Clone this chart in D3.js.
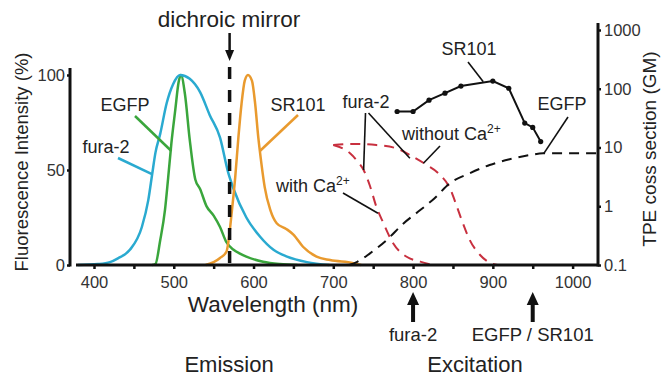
<!DOCTYPE html>
<html>
<head>
<meta charset="utf-8">
<script src="https://cdn.jsdelivr.net/npm/d3@7"></script>
<style>
  body { margin: 0; background: #fff; }
  svg { display: block; font-family: "Liberation Sans", Arial, sans-serif; }
</style>
</head>
<body>
<div id="chart"></div>
<script>
// emission spectra (% of max)
const furaEmWl  = [380, 405, 420, 430, 445, 460, 468, 473, 477, 483, 491, 499, 508, 520, 533, 545, 558, 568, 575, 591, 608, 625, 642, 667, 695]
const furaEmVal = [0, 0.5, 1.5, 3.5, 8, 20, 34, 48, 59, 69, 85, 95, 100, 98, 91, 79, 67, 49, 40, 25, 15, 8, 4.4, 1.5, 0]

const egfpEmWl  = [473, 477, 483, 489, 493, 497, 502, 506, 509, 514, 520, 527, 533, 541, 550, 558, 566, 575, 583, 591, 612, 633, 655]
const egfpEmVal = [0, 0.5, 13, 29, 46, 64, 82, 96, 100, 90, 66, 45, 40, 31, 26, 20, 12, 8, 6, 4.4, 1.7, 0.5, 0]

const srEmWl  = [540, 550, 558, 566, 573, 577, 581, 585, 589, 593, 598, 602, 606, 610, 614, 621, 629, 641, 650, 662, 679, 696, 725, 735]
const srEmVal = [0, 1.5, 3.7, 7, 29, 46, 67, 85, 97, 100, 97, 85, 67, 53, 41, 29, 22, 19, 16, 9.6, 4.4, 2.6, 1, 0]

// two-photon excitation cross sections (GM)
const srTpWl  = [780, 800, 820, 840, 860, 900, 920, 940, 950, 960]
const srTpVal = [41, 41, 64, 84, 111, 135, 102, 26, 22, 12.6]

const egfpTpWl  = [720, 730, 746, 767, 788, 809, 827, 846, 871, 896, 921, 947, 963, 1030]
const egfpTpVal = [0.1, 0.113, 0.158, 0.267, 0.51, 0.86, 1.37, 2.46, 3.64, 5.04, 6.29, 7.45, 7.96, 7.96]

const furaFreeWl  = [700, 725, 754, 779, 796, 817, 834, 846, 855, 861, 871, 884, 900, 906]
const furaFreeVal = [11, 11.5, 11, 9.7, 7.45, 5.04, 3.4, 2.05, 0.98, 0.58, 0.267, 0.148, 0.104, 0.1]

const furaCaWl  = [700, 721, 729, 738, 746, 754, 763, 775, 792, 809, 825]
const furaCaVal = [11, 7.96, 6.12, 4.14, 2.21, 0.98, 0.51, 0.234, 0.138, 0.114, 0.1]

const xTicks = d3.range(400, 1001, 50)
const leftTicks = [0, 50, 100]
const rightTicks = [0.1, 1, 10, 100, 1000]

const mirrorWl = 570
const laserWl = [800, 950]
const laserLabels = ["fura-2", "EGFP / SR101"]

var width = 662,
    height = 378

const zip = (a, b) => a.map((d, i) => [d, b[i]])

var x = d3.scaleLinear().domain([400, 1000]).range([94, 572.6])
var yL = d3.scaleLinear().domain([0, 100]).range([265, 75])
var yR = d3.scaleLog().domain([0.1, 1000]).range([265, 30])

const axisLeftX = 70, axisRightX = 598, baseY = 265

var svg = d3.select("#chart").append("svg")
    .attr("width", width)
    .attr("height", height)

svg.append("rect").attr("width", width).attr("height", height).attr("fill", "#fff")

const cyan = "#2aaad0", green = "#3aa63c", orange = "#e99a2e", red = "#c8303f"

// emission curves
const lineL = d3.line().x(d => x(d[0])).y(d => yL(d[1])).curve(d3.curveMonotoneX)
const lineR = d3.line().x(d => x(d[0])).y(d => yR(d[1])).curve(d3.curveMonotoneX)

svg.append("path").attr("d", lineL(zip(egfpEmWl, egfpEmVal)))
    .attr("fill", "none").attr("stroke", green).attr("stroke-width", 2.5)
svg.append("path").attr("d", lineL(zip(furaEmWl, furaEmVal)))
    .attr("fill", "none").attr("stroke", cyan).attr("stroke-width", 2.5)
svg.append("path").attr("d", lineL(zip(srEmWl, srEmVal)))
    .attr("fill", "none").attr("stroke", orange).attr("stroke-width", 2.5)

// excitation curves
svg.append("path").attr("d", lineR(zip(furaFreeWl, furaFreeVal)))
    .attr("fill", "none").attr("stroke", red).attr("stroke-width", 2).attr("stroke-dasharray", "10,7")
svg.append("path").attr("d", lineR(zip(furaCaWl, furaCaVal)))
    .attr("fill", "none").attr("stroke", red).attr("stroke-width", 2).attr("stroke-dasharray", "10,7")
svg.append("path").attr("d", lineR(zip(egfpTpWl, egfpTpVal)))
    .attr("fill", "none").attr("stroke", "#111").attr("stroke-width", 2).attr("stroke-dasharray", "10,7")

svg.append("path").attr("d", d3.line().x(d => x(d[0])).y(d => yR(d[1]))(zip(srTpWl, srTpVal)))
    .attr("fill", "none").attr("stroke", "#111").attr("stroke-width", 2)
svg.selectAll(".srdot").data(zip(srTpWl, srTpVal)).enter().append("circle")
    .attr("cx", d => x(d[0])).attr("cy", d => yR(d[1])).attr("r", 2.6).attr("fill", "#111")

// dichroic mirror
const mx = x(mirrorWl)
svg.append("line").attr("x1", mx).attr("x2", mx).attr("y1", 67).attr("y2", baseY)
    .attr("stroke", "#111").attr("stroke-width", 3.5).attr("stroke-dasharray", "12,11")
svg.append("line").attr("x1", mx).attr("x2", mx).attr("y1", 33).attr("y2", 52)
    .attr("stroke", "#111").attr("stroke-width", 2.5)
svg.append("path").attr("d", `M${mx - 4.5},50 L${mx + 4.5},50 L${mx},61 Z`).attr("fill", "#111")

// axes
const xAxis = svg.append("g").attr("transform", `translate(0,${baseY})`)
    .call(d3.axisBottom(x).tickValues(xTicks).tickSize(4).tickPadding(7)
        .tickFormat(d => d % 100 === 0 ? d : ""))
const lAxis = svg.append("g").attr("transform", `translate(${axisLeftX},0)`)
    .call(d3.axisLeft(yL).tickValues(leftTicks).tickSize(3).tickPadding(2))
const rAxis = svg.append("g").attr("transform", `translate(${axisRightX},0)`)
    .call(d3.axisRight(yR).tickValues(rightTicks).tickSize(3).tickPadding(3).tickFormat(d => String(d)))

;[xAxis, lAxis, rAxis].forEach(g => {
    g.select(".domain").remove()
    g.selectAll(".tick line").attr("stroke", "#111").attr("stroke-width", 2.5)
    g.selectAll(".tick text").attr("fill", "#333").style("font-size", "16.5px")
        .style("font-family", '"Liberation Sans", Arial, sans-serif')
})

svg.append("line").attr("x1", 76).attr("x2", axisRightX).attr("y1", baseY).attr("y2", baseY)
    .attr("stroke", "#111").attr("stroke-width", 3)
svg.append("line").attr("x1", axisLeftX).attr("x2", axisLeftX).attr("y1", 68).attr("y2", baseY + 1.5)
    .attr("stroke", "#111").attr("stroke-width", 3)
svg.append("line").attr("x1", axisRightX).attr("x2", axisRightX).attr("y1", 23).attr("y2", baseY + 1.5)
    .attr("stroke", "#111").attr("stroke-width", 3)

// axis titles
const txt = (t, px, py, size, anchor) => svg.append("text").attr("x", px).attr("y", py)
    .attr("text-anchor", anchor || "middle").attr("fill", "#222").style("font-size", size + "px").text(t)

txt("dichroic mirror", 229, 27, 22.5)
txt("Wavelength (nm)", 273, 312, 22.5)
txt("Emission", 229, 372, 22)
txt("Excitation", 475, 372, 22)

svg.append("text").attr("transform", "translate(28,162) rotate(-90)").attr("text-anchor", "middle")
    .attr("fill", "#222").style("font-size", "18.5px").text("Fluorescence Intensity (%)")
svg.append("text").attr("transform", "translate(656,149) rotate(-90)").attr("text-anchor", "middle")
    .attr("fill", "#222").style("font-size", "19px").text("TPE coss section (GM)")

// labels and leader lines
const leader = (x1, y1, x2, y2, col) => svg.append("line")
    .attr("x1", x1).attr("y1", y1).attr("x2", x2).attr("y2", y2)
    .attr("stroke", col).attr("stroke-width", col === "#111" ? 1.6 : 2.5)

txt("EGFP", 125, 111, 18)
leader(135, 116, x(497), yL(60), green)
txt("fura-2", 106, 153, 18)
leader(118, 158, x(472), yL(48), cyan)
txt("SR101", 298, 111, 18)
leader(298, 115, x(608), yL(60), orange)

txt("fura-2", 366, 108, 18)
leader(365.5, 113, x(738), yR(4.14), "#111")
leader(368.5, 113, x(796), yR(6.55), "#111")

const ca = (px, py, word) => {
    const t = svg.append("text").attr("x", px).attr("y", py).attr("fill", "#222").style("font-size", "18px")
    t.append("tspan").text(word + "Ca")
    t.append("tspan").attr("dy", -7).style("font-size", "12px").text("2+")
}
ca(276, 192, "with ")
leader(343, 193, x(756), yR(0.76), "#111")
ca(402, 140, "without ")
leader(440, 146, x(813), yR(5.38), "#111")

txt("SR101", 469, 55, 18)
leader(468, 62, x(888), yR(132), "#111")
txt("EGFP", 562, 110, 18)
leader(568, 117, x(964), yR(7.96), "#111")

// laser arrows
laserWl.forEach((w, i) => {
    const ax = x(w)
    svg.append("path")
        .attr("d", `M${ax},292 L${ax + 6},305 L${ax + 2},305 L${ax + 2},322 L${ax - 2},322 L${ax - 2},305 L${ax - 6},305 Z`)
        .attr("fill", "#111")
    txt(laserLabels[i], ax, 341, 18.5)
})
</script>
</body>
</html>
